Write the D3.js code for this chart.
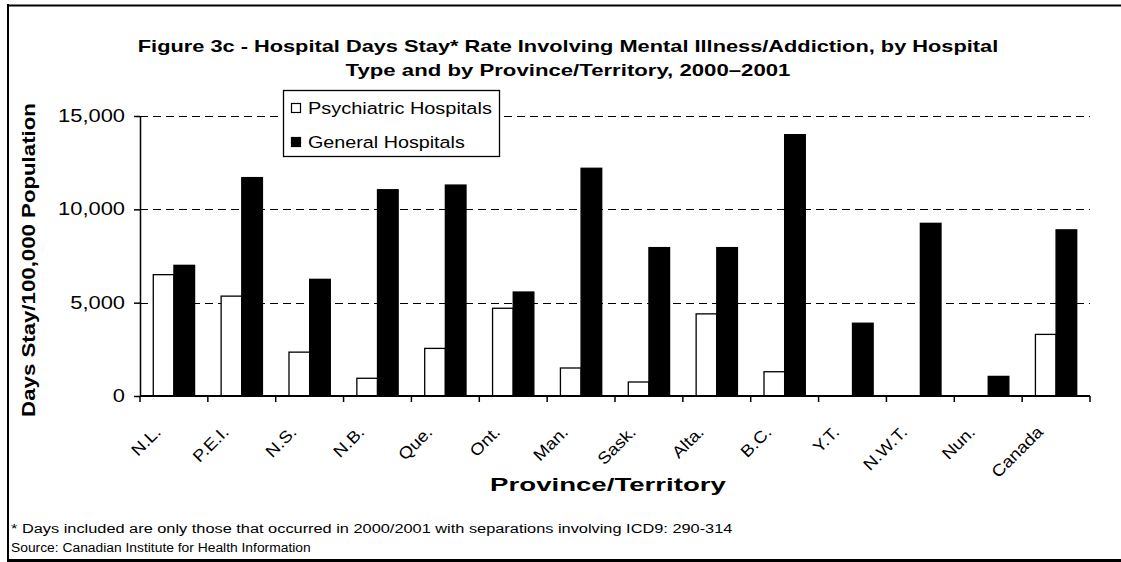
<!DOCTYPE html>
<html>
<head>
<meta charset="utf-8">
<script src="https://cdn.jsdelivr.net/npm/d3@7"></script>
<style>
  body { margin: 0; background: #fff; }
  svg { display: block; }
  text { font-family: "Liberation Sans", Arial, sans-serif; fill: #000; }
</style>
</head>
<body>
<svg id="chart" width="1121" height="562"></svg>
<script>
// data
const provinces = ["N.L.", "P.E.I.", "N.S.", "N.B.", "Que.", "Ont.", "Man.", "Sask.", "Alta.", "B.C.", "Y.T.", "N.W.T.", "Nun.", "Canada"];
const psychiatric = [6500, 5350, 2350, 950, 2550, 4700, 1500, 750, 4400, 1300, 0, 0, 0, 3300];
const general = [7000, 11700, 6250, 11050, 11300, 5570, 12200, 7950, 7950, 14000, 3900, 9250, 1050, 8900];
const seriesNames = ["Psychiatric Hospitals", "General Hospitals"];
const yTicks = [0, 5000, 10000, 15000];

const svg = d3.select("#chart");
const plot = { left: 140, right: 1090, top: 116, bottom: 396 };

// the source font is wider than Arial, so text is stretched to the measured width
function addText(parent, str, o) {
  const t = parent.append("text")
    .attr("font-size", o.size)
    .attr("font-weight", o.weight || "normal")
    .attr("text-anchor", o.anchor || "start")
    .text(str);
  const s = o.width ? o.width / t.node().getComputedTextLength() : (o.stretch || 1);
  t.attr("transform", `translate(${o.x},${o.y})${o.rotate ? ` rotate(${o.rotate})` : ""} scale(${s},1)`);
  return t;
}

// outer frame (no right edge, heavier bottom)
svg.append("line").attr("x1", 8).attr("x2", 8).attr("y1", 4).attr("y2", 562)
  .attr("stroke", "#000").attr("stroke-width", 2);
svg.append("line").attr("x1", 7).attr("x2", 1121).attr("y1", 5.5).attr("y2", 5.5)
  .attr("stroke", "#000").attr("stroke-width", 2);
svg.append("rect").attr("x", 7).attr("y", 559).attr("width", 1114).attr("height", 3).attr("fill", "#000");

const x = d3.scaleBand().domain(provinces).range([plot.left, plot.right]).padding(0);
const x1 = d3.scaleBand().domain(seriesNames).range([0, x.bandwidth()]).paddingInner(0).paddingOuter(0.643);
const y = d3.scaleLinear().domain([0, 15000]).range([plot.bottom, plot.top]);

// dashed gridlines
svg.append("g").selectAll("line").data(yTicks.filter(d => d > 0)).join("line")
  .attr("x1", plot.left).attr("x2", plot.right)
  .attr("y1", d => Math.round(y(d)) + 0.5).attr("y2", d => Math.round(y(d)) + 0.5)
  .attr("stroke", "#000").attr("stroke-width", 1).attr("stroke-dasharray", "8,5");

// bars
const rows = provinces.map((p, i) => ({ p, vals: [psychiatric[i], general[i]] }));
const groups = svg.append("g").selectAll("g").data(rows).join("g")
  .attr("transform", d => `translate(${x(d.p)},0)`);
groups.selectAll("rect").data(d => d.vals.map((v, k) => ({ v, s: seriesNames[k] })).filter(d => d.v > 0)).join("rect")
  .attr("x", d => x1(d.s))
  .attr("y", d => y(d.v))
  .attr("width", x1.bandwidth())
  .attr("height", d => y(0) - y(d.v))
  .attr("fill", d => d.s === seriesNames[0] ? "#fff" : "#000")
  .attr("stroke", "#000").attr("stroke-width", 1.3);

// y axis
const yAxis = svg.append("g").attr("transform", `translate(${plot.left},0)`)
  .call(d3.axisLeft(y).tickValues(yTicks).tickSize(6).tickSizeOuter(0).tickPadding(9).tickFormat(d3.format(",")));
yAxis.select(".domain").attr("stroke-width", 1.5);
yAxis.selectAll(".tick line").attr("stroke-width", 1.5);
const tickText = yAxis.selectAll("text").attr("font-size", 17.5)
  .style("font-family", "'Liberation Sans', Arial, sans-serif");
const widest = d3.max(tickText.nodes(), n => n.getComputedTextLength());
const tickStretch = 67 / widest;
tickText.attr("x", null).attr("transform", `translate(-15,0) scale(${tickStretch},1)`);

// x axis line and boundary ticks
svg.append("line").attr("x1", plot.left).attr("x2", plot.right)
  .attr("y1", plot.bottom).attr("y2", plot.bottom).attr("stroke", "#000").attr("stroke-width", 2);
const bounds = provinces.map(p => x(p)).concat([plot.right]);
svg.append("g").selectAll("line").data(bounds).join("line")
  .attr("x1", d => d).attr("x2", d => d)
  .attr("y1", plot.bottom).attr("y2", plot.bottom + 6)
  .attr("stroke", "#000").attr("stroke-width", 1.5);

// rotated category labels
const xl = svg.append("g");
provinces.forEach(p => addText(xl, p, {
  x: x(p) + x.bandwidth() / 2 - 12, y: 433, size: 16.5, anchor: "end", rotate: -45, stretch: 1.12
}));

// legend
const lg = svg.append("g");
lg.append("rect").attr("x", 283.5).attr("y", 90.5).attr("width", 216).attr("height", 66)
  .attr("fill", "#fff").attr("stroke", "#000").attr("stroke-width", 1.3);
const legendRows = [
  { name: seriesNames[0], fill: "#fff", yy: 103, base: 114, len: 184 },
  { name: seriesNames[1], fill: "#000", yy: 137, base: 148, len: 157 }
];
legendRows.forEach(r => {
  lg.append("rect").attr("x", 291.5).attr("y", r.yy + 0.5).attr("width", 9).attr("height", 9)
    .attr("fill", r.fill).attr("stroke", "#000").attr("stroke-width", 1.2);
  addText(lg, r.name, { x: 308, y: r.base, size: 17, width: r.len });
});

// titles
addText(svg, "Figure 3c - Hospital Days Stay* Rate Involving Mental Illness/Addiction, by Hospital",
  { x: 568, y: 52, size: 17, weight: "bold", anchor: "middle", width: 861 });
addText(svg, "Type and by Province/Territory, 2000\u20132001",
  { x: 568, y: 76, size: 17, weight: "bold", anchor: "middle", width: 445 });

addText(svg, "Days Stay/100,000 Population",
  { x: 35, y: 260, size: 18, weight: "bold", anchor: "middle", rotate: -90, width: 314 });

addText(svg, "Province/Territory",
  { x: 608, y: 491, size: 18, weight: "bold", anchor: "middle", width: 236 });

// footnotes
addText(svg, "* Days included are only those that occurred in 2000/2001 with separations involving ICD9: 290-314",
  { x: 11, y: 533, size: 13.5, width: 722 });
addText(svg, "Source: Canadian Institute for Health Information",
  { x: 11, y: 552, size: 13.5, width: 300 });
</script>
</body>
</html>
